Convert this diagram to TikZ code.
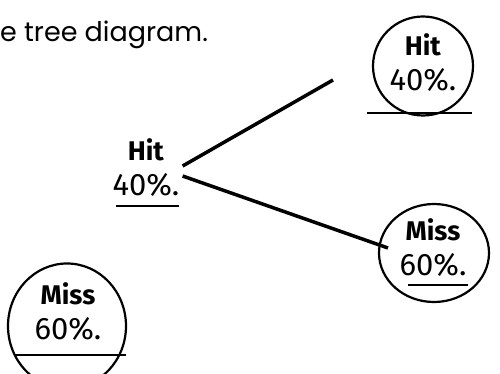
\documentclass[tikz,border=0pt]{standalone}
\usepackage{fontspec}
\setmainfont{Poppins}
\newfontfamily\handfont{Fira Sans}
\usetikzlibrary{shapes.geometric}

\begin{document}
\begin{tikzpicture}[x=1pt, y=-1pt,
      ring/.style ={draw, ellipse, line width=2.2pt, inner sep=0pt},
      pick/.style ={font=\handfont\fontsize{27}{35}\selectfont, align=center, inner sep=0pt},
      big/.style  ={font=\fontsize{31}{35}\selectfont},
      uline/.style={line width=2pt},
      branch/.style={line width=3.5pt}
    ]
    \fill[white] (0,0) rectangle (500,374);
    \useasboundingbox (0,0) rectangle (500,374);

    % end of the question text
    \node[anchor=base west, inner sep=0pt, font=\fontsize{27}{30}\selectfont] (title) at (0,42) {e tree diagram.};

    % first pick
    \node[pick] (hitA) at (146,168) {\textbf{Hit}\\{\fontsize{31}{35}\selectfont 40\%.}};
    \draw[uline] ([xshift=-30pt, yshift=-38pt]hitA.center) -- ++(63,0);

    \node[pick] (missA) at (68,312) {\textbf{Miss}\\{\fontsize{31}{35}\selectfont 60\%.}};
    \node[ring, minimum width=118pt, minimum height=125pt] (ringA) at ([xshift=-1pt, yshift=-14pt]missA.center) {};
    \draw[uline] ([xshift=-54pt, yshift=-43pt]missA.center) -- ++(112,0);

    % second pick, after a hit
    \node[pick] (hitB) at (423,63) {\textbf{Hit}\\{\fontsize{31}{35}\selectfont 40\%.}};
    \node[ring, minimum width=100pt, minimum height=99pt] (ringB) at ([xshift=0pt, yshift=-3pt]hitB.center) {};
    \draw[uline] ([xshift=-56pt, yshift=-50pt]hitB.center) -- ++(105,0);

    \node[pick] (missB) at (433,248) {\textbf{Miss}\\{\fontsize{31}{35}\selectfont 60\%.}};
    \node[ring, minimum width=110pt, minimum height=98pt] (ringM) at ([xshift=1pt, yshift=-5pt]missB.center) {};
    \draw[uline] ([xshift=-25pt, yshift=-37pt]missB.center) -- ++(60,0);

    % branches
    \coordinate (hitEnd)  at (333,80);
    \coordinate (missEnd) at (388,248);
    \draw[branch] ([xshift=3pt, yshift=2pt]hitA.east) -- (hitEnd);
    \draw[branch] ([xshift=3pt, yshift=-8pt]hitA.east) -- (missEnd);
  \end{tikzpicture}
\end{document}
